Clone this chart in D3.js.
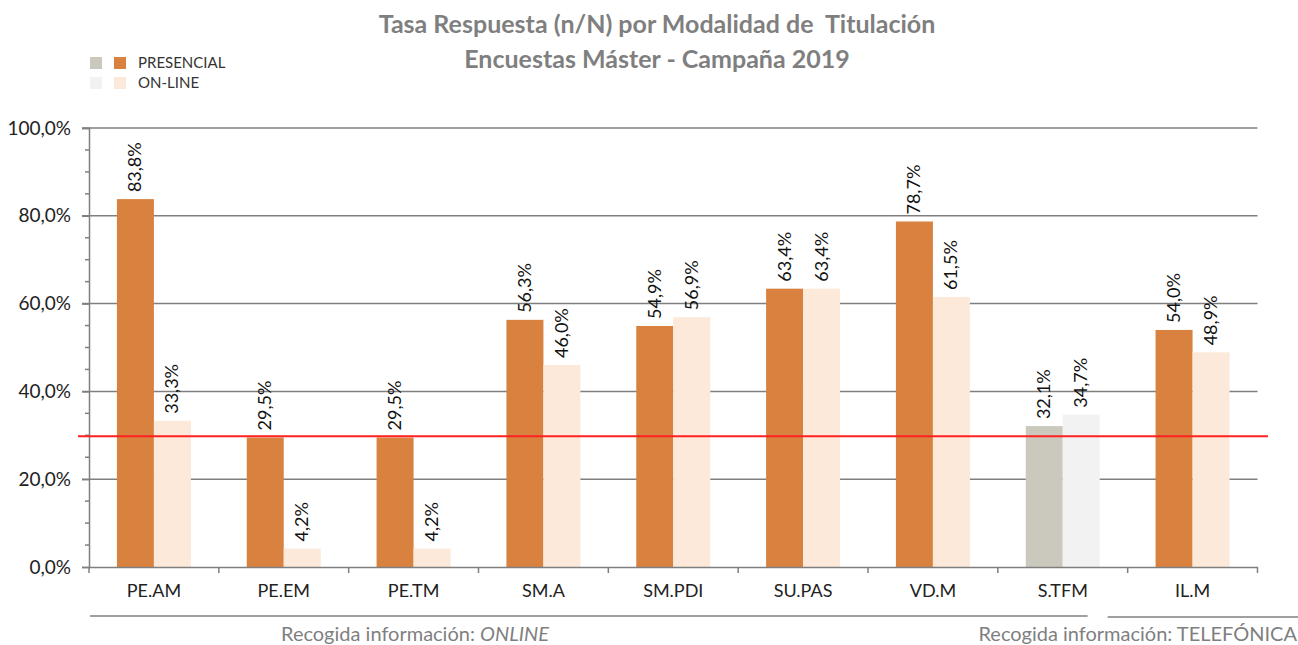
<!DOCTYPE html>
<html>
<head>
<meta charset="utf-8">
<script src="https://cdn.jsdelivr.net/npm/d3@7"></script>
<style>
  body { margin: 0; background: #fff; }
  text { font-family: Lato, "Liberation Sans", sans-serif; }
</style>
</head>
<body>
<div id="chart"></div>
<script>
var categories = ['PE.AM', 'PE.EM', 'PE.TM', 'SM.A', 'SM.PDI', 'SU.PAS', 'VD.M', 'S.TFM', 'IL.M'];
var presencial = [83.8, 29.5, 29.5, 56.3, 54.9, 63.4, 78.7, 32.1, 54.0];
var online = [33.3, 4.2, 4.2, 46.0, 56.9, 63.4, 61.5, 34.7, 48.9];
var yTicks = [0, 20, 40, 60, 80, 100];
var refValue = 29.8;
var groups = [
  { label: 'Recogida información: ', italic: 'ONLINE' },
  { label: 'Recogida información: TELEFÓNICA', italic: '' }
];

var W = 1298, H = 645;
var mLeft = 89, mRight = 1257.5, mTop = 128, mBottom = 567;

var svg = d3.select('#chart').append('svg').attr('width', W).attr('height', H);

var x = d3.scaleBand().domain(categories).range([mLeft, mRight]);
var x1 = d3.scaleBand().domain(['p', 'o']).range([0, 74]);
var y = d3.scaleLinear().domain([0, 100]).range([mBottom, mTop]);

var fmt = function(v) { return v.toFixed(1).replace('.', ',') + '%'; };

// title
svg.append('text').attr('x', 657).attr('y', 33).attr('text-anchor', 'middle')
  .attr('font-size', 25).attr('font-weight', 'bold').attr('fill', '#7f7f7f')
  .style('white-space', 'pre')
  .text('Tasa Respuesta (n/N) por Modalidad de  Titulación');
svg.append('text').attr('x', 657).attr('y', 68).attr('text-anchor', 'middle')
  .attr('font-size', 25).attr('font-weight', 'bold').attr('fill', '#7f7f7f')
  .text('Encuestas Máster - Campaña 2019');

// legend
var legend = [
  { name: 'PRESENCIAL', c1: '#cbc9bd', c2: '#d9823f' },
  { name: 'ON-LINE', c1: '#f2f2f2', c2: '#fde9d9' }
];
legend.forEach(function(d, i) {
  var ly = 57 + i * 20;
  svg.append('rect').attr('x', 90).attr('y', ly).attr('width', 12).attr('height', 12).attr('fill', d.c1);
  svg.append('rect').attr('x', 114).attr('y', ly).attr('width', 12).attr('height', 12).attr('fill', d.c2);
  svg.append('text').attr('x', 138).attr('y', ly + 11).attr('font-size', 15).attr('fill', '#333').text(d.name);
});

// gridlines
svg.append('g').selectAll('line').data(yTicks.filter(function(t) { return t > 0; })).join('line')
  .attr('x1', 82).attr('x2', mRight)
  .attr('y1', function(d) { return y(d); }).attr('y2', function(d) { return y(d); })
  .attr('stroke', '#7f7f7f').attr('stroke-width', 1.5);

// y axis
var yAxis = svg.append('g').attr('transform', 'translate(' + mLeft + ',0)')
  .call(d3.axisLeft(y).tickValues(yTicks).tickSize(7).tickFormat(fmt));
yAxis.select('.domain').attr('stroke', '#7f7f7f').attr('stroke-width', 1.5);
yAxis.selectAll('.tick line').attr('stroke', '#7f7f7f').attr('stroke-width', 1.5);
yAxis.selectAll('.tick text').attr('font-size', 19).attr('fill', '#222').attr('x', -18)
  .style('font-family', 'Lato, sans-serif');
svg.append('g').selectAll('line').data(d3.range(5, 100, 5).filter(function(t) { return t % 20; })).join('line')
  .attr('x1', mLeft - 4).attr('x2', mLeft)
  .attr('y1', function(d) { return y(d); }).attr('y2', function(d) { return y(d); })
  .attr('stroke', '#7f7f7f').attr('stroke-width', 1.5);

// bars
var rows = categories.map(function(c, i) {
  var tfm = c === 'S.TFM';
  return [
    { cat: c, key: 'p', v: presencial[i], color: tfm ? '#cbc9bd' : '#d9823f' },
    { cat: c, key: 'o', v: online[i], color: tfm ? '#f2f2f2' : '#fde9d9' }
  ];
});
var flat = d3.merge(rows);
var off = (x.bandwidth() - 74) / 2;

svg.append('g').selectAll('rect').data(flat).join('rect')
  .attr('x', function(d) { return x(d.cat) + off + x1(d.key); })
  .attr('y', function(d) { return y(d.v); })
  .attr('width', x1.bandwidth())
  .attr('height', function(d) { return mBottom - y(d.v); })
  .attr('fill', function(d) { return d.color; });

svg.append('g').selectAll('text').data(flat).join('text')
  .attr('transform', function(d) {
    var cx = x(d.cat) + off + x1(d.key) + x1.bandwidth() / 2 + 6;
    return 'translate(' + cx + ',' + (y(d.v) - 7) + ') rotate(-90)';
  })
  .attr('font-size', 18).attr('fill', '#111')
  .text(function(d) { return fmt(d.v); });

// x axis
var xAxis = svg.append('g').attr('transform', 'translate(0,' + mBottom + ')')
  .call(d3.axisBottom(x).tickSize(0).tickPadding(17));
xAxis.select('.domain').attr('stroke', '#7f7f7f').attr('stroke-width', 1.5);
xAxis.selectAll('.tick text').attr('font-size', 18).attr('fill', '#222')
  .style('font-family', 'Lato, sans-serif');
svg.append('g').selectAll('line').data(categories.concat(['end'])).join('line')
  .attr('x1', function(d, i) { return mLeft + i * x.step(); })
  .attr('x2', function(d, i) { return mLeft + i * x.step(); })
  .attr('y1', mBottom).attr('y2', mBottom + 6)
  .attr('stroke', '#7f7f7f').attr('stroke-width', 1.5);

// reference line
svg.append('line').attr('x1', 78).attr('x2', 1268)
  .attr('y1', y(refValue)).attr('y2', y(refValue))
  .attr('stroke', '#ff2020').attr('stroke-width', 2);

// group brackets
var g0 = svg.append('g');
g0.append('line').attr('x1', 90).attr('x2', x('S.TFM') + x.step() - 40)
  .attr('y1', 616).attr('y2', 616).attr('stroke', '#7f7f7f').attr('stroke-width', 1.5);
g0.append('line').attr('x1', x('IL.M') - 20).attr('x2', W)
  .attr('y1', 617).attr('y2', 617).attr('stroke', '#7f7f7f').attr('stroke-width', 1.5);

var t1 = svg.append('text').attr('x', 415).attr('y', 641).attr('text-anchor', 'middle')
  .attr('font-size', 20).attr('fill', '#7f7f7f');
t1.append('tspan').text(groups[0].label);
t1.append('tspan').attr('font-style', 'italic').text(groups[0].italic);
svg.append('text').attr('x', 1297).attr('y', 641).attr('text-anchor', 'end')
  .attr('font-size', 20).attr('fill', '#7f7f7f').text(groups[1].label);
</script>
</body>
</html>
